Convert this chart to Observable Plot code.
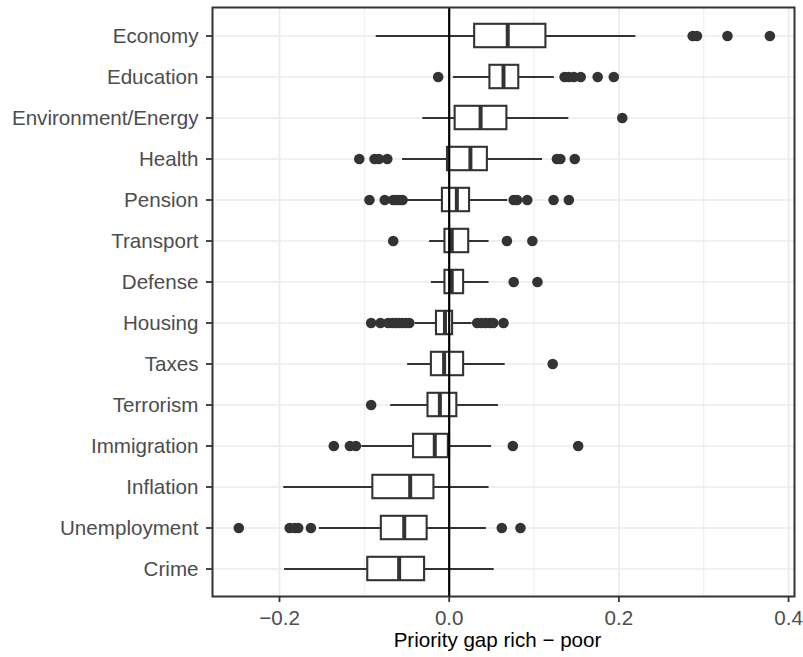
<!DOCTYPE html>
<html>
<head>
<meta charset="utf-8">
<script src="https://cdn.jsdelivr.net/npm/d3@7"></script>
<script src="https://cdn.jsdelivr.net/npm/@observablehq/plot@0.6"></script>
<style>
  html, body { margin: 0; padding: 0; background: white; }
</style>
</head>
<body>
<div id="chart"></div>
<script>
const categories = ["Economy", "Education", "Environment/Energy", "Health", "Pension", "Transport", "Defense", "Housing", "Taxes", "Terrorism", "Immigration", "Inflation", "Unemployment", "Crime"];
const whiskerLow  = [-0.086, 0.005, -0.031, -0.055, -0.051, -0.023, -0.021, -0.040, -0.049, -0.069, -0.103, -0.195, -0.153, -0.194];
const q1          = [ 0.030, 0.048,  0.007, -0.002, -0.008, -0.005, -0.005, -0.015, -0.021, -0.025, -0.042, -0.090, -0.080, -0.096];
const median      = [ 0.069, 0.064,  0.037,  0.025,  0.009,  0.003,  0.003, -0.005, -0.006, -0.011, -0.017, -0.046, -0.053, -0.059];
const q3          = [ 0.114, 0.082,  0.068,  0.045,  0.024,  0.023,  0.017,  0.004,  0.017,  0.009, -0.001, -0.018, -0.026, -0.029];
const whiskerHigh = [ 0.220, 0.124,  0.141,  0.110,  0.069,  0.047,  0.047,  0.027,  0.066,  0.058,  0.050,  0.047,  0.044,  0.053];
const outliers = [
  [0.287, 0.292, 0.328, 0.378],
  [-0.013, 0.136, 0.141, 0.147, 0.155, 0.175, 0.194],
  [0.204],
  [-0.106, -0.088, -0.083, -0.073, 0.127, 0.131, 0.148],
  [-0.094, -0.076, -0.066, -0.062, -0.058, -0.055, 0.076, 0.080, 0.092, 0.123, 0.141],
  [-0.066, 0.068, 0.098],
  [0.076, 0.104],
  [-0.092, -0.081, -0.072, -0.067, -0.063, -0.059, -0.055, -0.051, -0.047, 0.033, 0.038, 0.043, 0.048, 0.052, 0.064],
  [0.122],
  [-0.092],
  [-0.136, -0.117, -0.110, 0.075, 0.152],
  [],
  [-0.248, -0.188, -0.182, -0.178, -0.163, 0.062, 0.084],
  []
];
const xTicks = [-0.2, 0, 0.2, 0.4];
const xMinor = [-0.1, 0.1, 0.3];
const xTitle = "Priority gap rich − poor";

const rows = categories.map((c, i) => ({cat: c, lo: whiskerLow[i], q1: q1[i], med: median[i], q3: q3[i], hi: whiskerHigh[i]}));
const pts = categories.flatMap((c, i) => outliers[i].map(v => ({cat: c, v})));

const ink = "#333333";
const grid = "#EBEBEB";
const fs = 20.6;

const chart = Plot.plot({
  width: 803,
  height: 657,
  marginLeft: 212,
  marginRight: 9,
  marginTop: 7,
  marginBottom: 61,
  style: {fontFamily: "'Liberation Sans', Arial, Helvetica, sans-serif", fontSize: fs + "px", background: "white", color: "black"},
  x: {domain: [-0.279, 0.407], label: null},
  y: {domain: categories, paddingInner: 0.4, paddingOuter: 0.3, label: null},
  marks: [
    Plot.ruleX(xMinor, {stroke: grid, strokeWidth: 0.9}),
    Plot.ruleX(xTicks, {stroke: grid, strokeWidth: 1.7}),
    Plot.ruleY(categories, {y: d => d, stroke: grid, strokeWidth: 1.7}),
    Plot.ruleY(rows, {y: "cat", x1: "lo", x2: "hi", stroke: ink, strokeWidth: 2.1}),
    Plot.barX(rows, {y: "cat", x1: "q1", x2: "q3", fill: "white", stroke: ink, strokeWidth: 2.1, insetTop: 0.8, insetBottom: 0.8}),
    Plot.tickX(rows, {y: "cat", x: "med", stroke: ink, strokeWidth: 4, insetTop: 0.8, insetBottom: 0.8}),
    Plot.dot(pts, {y: "cat", x: "v", r: 5.3, fill: ink, stroke: "none"}),
    Plot.ruleX([0], {stroke: "black", strokeWidth: 2.2}),
    Plot.frame({stroke: ink, strokeWidth: 2}),
    Plot.axisX({ticks: xTicks, tickFormat: d3.format(".1f"), tickSize: 6, tickPadding: 8, stroke: ink, strokeWidth: 1.8, fill: "#4D4D4D", fontSize: fs, label: null}),
    Plot.axisY({tickSize: 6, tickPadding: 8, stroke: ink, strokeWidth: 1.8, fill: "#4D4D4D", fontSize: fs, label: null}),
    Plot.text([xTitle], {frameAnchor: "bottom", dy: 50, dx: -6, fontSize: fs, fill: "black"})
  ]
});
document.getElementById("chart").appendChild(chart);
</script>
</body>
</html>
